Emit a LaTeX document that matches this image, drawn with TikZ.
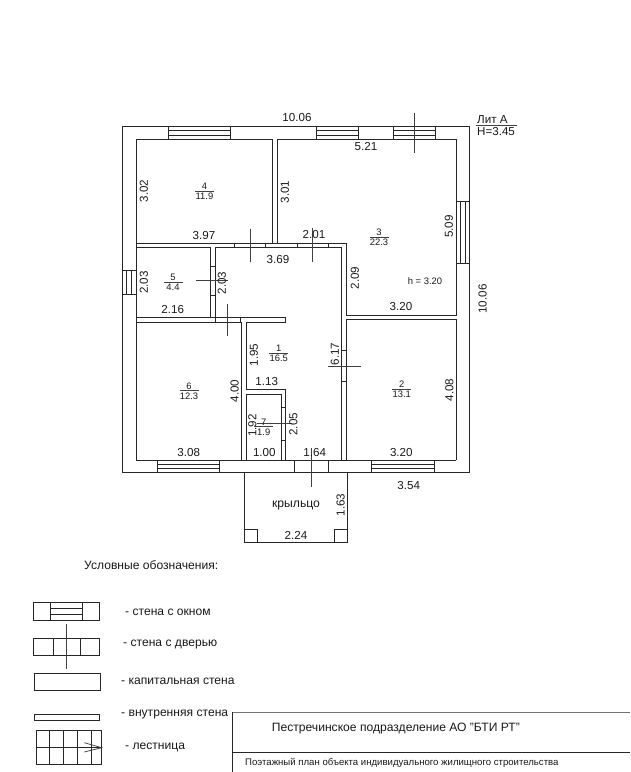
\documentclass[tikz,border=0pt]{standalone}
\usepackage{fontspec}
\setmainfont{Liberation Sans}
\usepackage{tikz}
\tikzset{
	wall/.style={draw=black!85,line width=0.85pt},
	doorline/.style={draw=black!75,line width=0.75pt},
	dim/.style={inner sep=0pt,font=\fontsize{11.6}{12}\selectfont,text=black!90},
	dimv/.style={dim,rotate=90},
	small/.style={inner sep=0pt,font=\fontsize{9.4}{10}\selectfont,text=black!90},
	legend/.style={inner sep=0pt,anchor=base west,font=\fontsize{12.1}{13}\selectfont,text=black!90}
}
\begin{document}
\begin{tikzpicture}[x=1pt,y=-1pt]
	\useasboundingbox (0,0) rectangle (630,772);

	% outer walls
	\draw[wall] (122.7,126.3) rectangle (469.7,472.7);
	\draw[wall] (277,139.3) -- (456.3,139.3) -- (456.3,315) -- (346.3,315) -- (346.3,243.3) -- (136,243.3) -- (136,139.3) -- (272.7,139.3) -- (272.7,243.3);
	\draw[wall] (277,139.3) -- (277,243.3);
	% inner walls
	\draw[wall] (136,243.3) -- (136,460) -- (456.3,460);
	\draw[wall] (241.7,460) -- (241.7,322.3) -- (136,322.3);
	\draw[wall] (136,247.3) -- (210,247.3) -- (210,317.3) -- (136,317.3);
	\draw[wall] (215,317.3) -- (215,247.3) -- (341.7,247.3) -- (341.7,460);
	\draw[wall] (285.7,460) -- (285.7,389.3) -- (246.7,389.3) -- (246.7,322.3) -- (285.7,322.3) -- (285.7,317.3) -- (210,317.3);
	\draw[wall] (246.7,460) -- (246.7,394) -- (281,394) -- (281,460);
	\draw[wall] (346.3,460) -- (346.3,319.3) -- (456.3,319.3) -- (456.3,460);

	% windows
	\foreach \xa/\xb in {168.7/230.7,316.3/358,393.7/435.3}{
		\draw[wall] (\xa,126.3) rectangle (\xb,139.3);
		\draw[wall] (\xa,130.7) -- (\xb,130.7);
		\draw[wall] (\xa,135.3) -- (\xb,135.3);
	}
	\foreach \xa/\xb in {157.3/219.3,371.7/434}{
		\draw[wall] (\xa,460) rectangle (\xb,472.7);
		\draw[wall] (\xa,464.3) -- (\xb,464.3);
		\draw[wall] (\xa,468.5) -- (\xb,468.5);
	}
	\draw[wall] (456.3,201) rectangle (469.7,263.3);
	\draw[wall] (460.7,201) -- (460.7,263.3);
	\draw[wall] (465.3,201) -- (465.3,263.3);
	\draw[wall] (122.7,270) rectangle (136,294.3);
	\draw[wall] (126.7,270) -- (126.7,294.3);
	\draw[wall] (131.3,270) -- (131.3,294.3);

	% doors
	\foreach \xa in {234.3,265,297.3,328.3}
		\draw[wall] (\xa,243.3) -- (\xa,247.3);
	\foreach \ya in {266.7,295}
		\draw[wall] (210,\ya) -- (215,\ya);
	\foreach \ya in {350,381.7}
		\draw[wall] (341.7,\ya) -- (346.3,\ya);
	\foreach \ya in {407.7,440}
		\draw[wall] (281,\ya) -- (285.7,\ya);
	\foreach \xa in {215,240}
		\draw[wall] (\xa,317.3) -- (\xa,322.3);
	\foreach \xa in {294.3,328.7}
		\draw[wall] (\xa,460) -- (\xa,472.7);
	\draw[doorline] (250,229.3) -- (250,261.7);
	\draw[doorline] (312.7,228) -- (312.7,261.7);
	\draw[doorline] (196,280.7) -- (228.3,280.7);
	\draw[doorline] (227.7,304) -- (227.7,336);
	\draw[doorline] (257.3,423.3) -- (291.7,423.3);
	\draw[doorline] (328.3,366) -- (360.7,366);
	\draw[doorline] (311.3,448) -- (311.3,486.7);
	\draw[doorline] (414.3,112.7) -- (414.3,153.3);

	% porch
	\draw[wall] (244.3,472.7) -- (244.3,542) -- (347.7,542) -- (347.7,472.7);
	\draw[wall] (244.3,529.3) -- (257.3,529.3) -- (257.3,542);
	\draw[wall] (347.7,529.3) -- (334.3,529.3) -- (334.3,542);

	% rooms: number over area
	\foreach \num/\area/\px/\py in {1/16.5/278.7/353,2/13.1/401.7/389.3,3/22.3/379/237,4/11.9/204.5/191,5/4.4/173/282,6/12.3/189/390.7,7/1.9/263.7/426.7}{
		\node[small] (num\num) at (\px,\py-4.8) {\num};
		\node[small] (area\num) at (\px,\py+5.2) {\area};
		\draw[doorline] (\px-9.5,\py) -- (\px+9.5,\py);
	}

	% dimensions
	\node[dim] (top) at (297,118) {10.06};
	\node[dim] (d521) at (366,147) {5.21};
	\node[dim] (d397) at (204,235.5) {3.97};
	\node[dim] (d201) at (314,235) {2.01};
	\node[dim] (d369) at (278,260) {3.69};
	\node[dim] (d216) at (172.7,310) {2.16};
	\node[dim] (d320a) at (401,307) {3.20};
	\node[dim] (d113) at (266.7,382) {1.13};
	\node[dim] (d308) at (188.7,452.7) {3.08};
	\node[dim] (d100) at (264.3,452.7) {1.00};
	\node[dim] (d164) at (314.7,452.3) {1.64};
	\node[dim] (d320b) at (401.3,452.7) {3.20};
	\node[dim] (d354) at (408.7,485.7) {3.54};
	\node[dim] (d224) at (296,535) {2.24};
	\node[dimv] (d302) at (144,191) {3.02};
	\node[dimv] (d301) at (285,192) {3.01};
	\node[dimv] (d509) at (449,226.7) {5.09};
	\node[dimv] (d203a) at (144,282.7) {2.03};
	\node[dimv] (d203b) at (222,283) {2.03};
	\node[dimv] (d209) at (355,278) {2.09};
	\node[dimv] (side) at (482.7,299) {10.06};
	\node[dimv] (d195) at (254,355) {1.95};
	\node[dimv] (d617) at (335,354) {6.17};
	\node[dimv] (d400) at (234.7,391) {4.00};
	\node[dimv] (d408) at (449.3,390) {4.08};
	\node[dimv] (d192) at (252.3,425.7) {1.92};
	\node[dimv] (d205) at (293.3,424.3) {2.05};
	\node[dimv] (d163) at (340.7,505) {1.63};
	\node[small] (height) at (425,280.7) {h = 3.20};
	\node[dim,font=\fontsize{12.2}{13}\selectfont] (porch) at (296,505) {крыльцо};
	\node[dim,anchor=west] (lit) at (477,119.5) {Лит А};
	\node[dim,anchor=west] (litH) at (477,132) {H=3.45};
	\draw[doorline] (476,125.5) -- (517,125.5);

	% legend
	\node[legend] (legtitle) at (84,569) {Условные обозначения:};
	\draw[wall] (33.3,602.7) rectangle (99.3,620);
	\draw[wall] (50.7,602.7) rectangle (82.3,620);
	\draw[wall] (50.7,608.7) -- (82.3,608.7);
	\draw[wall] (50.7,614) -- (82.3,614);
	\node[legend] (legwin) at (125,615.5) {- стена с окном};
	\draw[wall] (33.7,638) rectangle (99.7,655.3);
	\draw[wall] (53,638) -- (53,655.3);
	\draw[wall] (80.3,638) -- (80.3,655.3);
	\draw[doorline] (66.3,624) -- (66.3,669.3);
	\node[legend] (legdoor) at (123,646.5) {- стена с дверью};
	\draw[wall] (34.3,673.7) rectangle (100.3,690.3);
	\node[legend] (legcap) at (121,684) {- капитальная стена};
	\draw[wall] (34.3,714.7) rectangle (99.7,720);
	\node[legend] (leginner) at (121,716.5) {- внутренняя стена};
	\draw[wall] (36.3,730.3) rectangle (101.7,764.3);
	\draw[wall] (36.3,747.7) -- (101.7,747.7);
	\foreach \xa in {49.7,63.7,77.3,91}
		\draw[wall] (\xa,730.3) -- (\xa,764.3);
	\draw[doorline] (84.3,742.7) -- (101.7,747.7) -- (84.3,752);
	\node[legend] (legstair) at (125,749) {- лестница};

	% title block
	\draw[draw=black!55,line width=1.2pt] (630,712.3) -- (232.7,712.3);
	\draw[wall] (232.7,712.3) -- (232.7,772);
	\draw[wall] (232.7,752) -- (630,752);
	\node[legend] (org) at (271.7,731.5) {Пестречинское подразделение АО "БТИ РТ"};
	\node[legend,font=\fontsize{9.6}{10}\selectfont] (plan) at (245,765) {Поэтажный план объекта индивидуального жилищного строительства};
\end{tikzpicture}
\end{document}
